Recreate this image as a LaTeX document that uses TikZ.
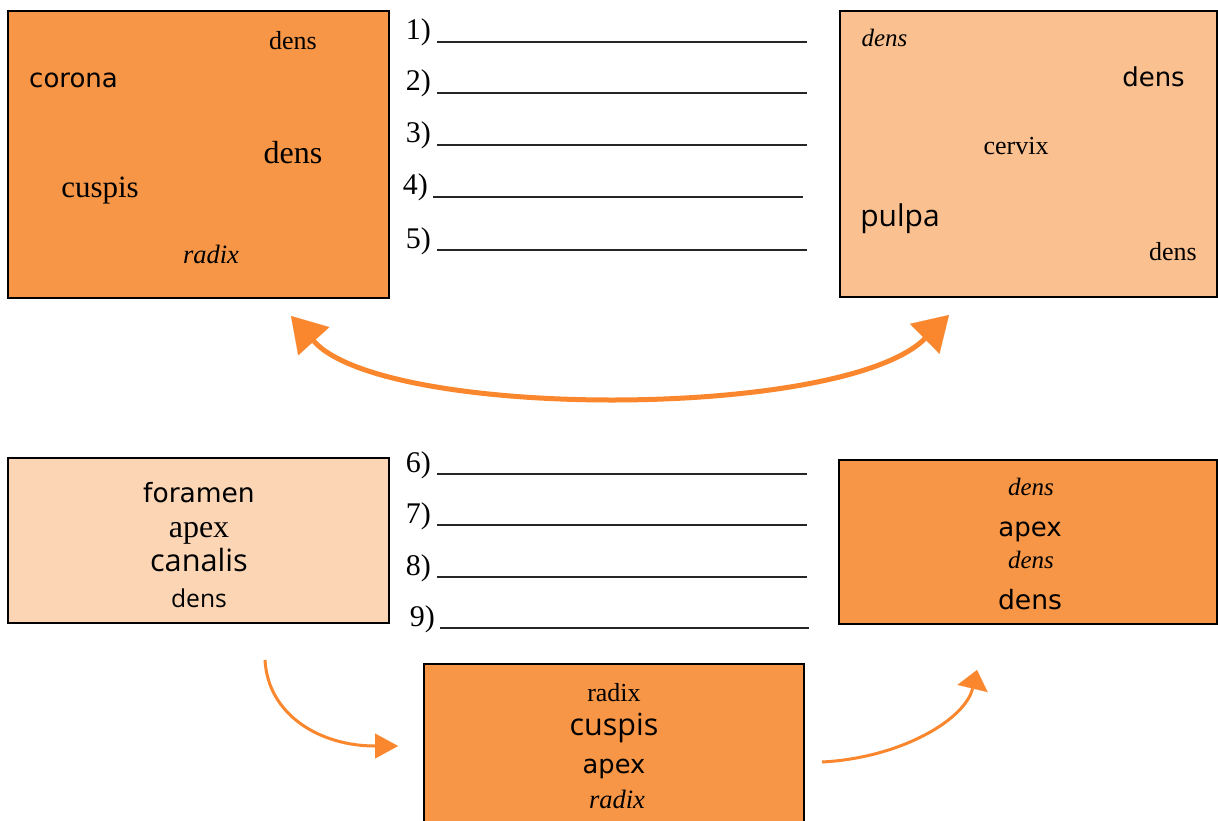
\documentclass[tikz,border=0pt]{standalone}
\usepackage{fontspec}
\setmainfont{Liberation Serif}
\newfontfamily\cmc{DejaVu Sans}
\newfontfamily\seg{Open Sans}
\usetikzlibrary{arrows.meta}
\newcommand\fsz[1]{\fontsize{#1}{#1}\selectfont}
\definecolor{darkor}{RGB}{247,150,70}
\definecolor{midor}{RGB}{250,192,144}
\definecolor{lightor}{RGB}{252,213,181}
\definecolor{arrcol}{RGB}{250,135,45}
\tikzset{
  box/.style={draw=black, line width=2pt, rectangle, inner sep=0pt},
  lbl/.style={anchor=base, inner sep=0pt},
  num/.style={anchor=base east, inner sep=0pt, font=\fsz{30}},
  blank/.style={draw=black!85, line width=1.6pt},
  arr/.style={draw=arrcol, line width=5pt},
  arrthin/.style={draw=arrcol, line width=3pt},
}
\begin{document}
\begin{tikzpicture}[x=1pt,y=-1pt]
\clip (0,0) rectangle (1218,821);
\fill[white] (0,0) rectangle (1218,821);

% boxes
\node[box, fill=darkor, minimum width=381pt, minimum height=287pt] (A) at (198.5,154.5) {};
\node[box, fill=midor, minimum width=377pt, minimum height=286pt] (B) at (1028.5,154) {};
\node[box, fill=lightor, minimum width=381pt, minimum height=165pt] (C) at (198.5,540.5) {};
\node[box, fill=darkor, minimum width=378pt, minimum height=164pt] (D) at (1028,542) {};
\node[box, fill=darkor, line width=2.5pt, minimum width=380pt, minimum height=176pt] (E) at (614,752) {};

% box A texts
\node[lbl] (a1) at (293,50) {\fsz{26}dens};
\node[lbl, anchor=base west] (a2) at (29,88) {\cmc\fsz{26}corona};
\node[lbl] (a3) at (293,164) {\fsz{32}dens};
\node[lbl] (a4) at (100,198) {\fsz{31}cuspis};
\node[lbl] (a5) at (211,263) {\fsz{26.5}\itshape radix};

% box B texts
\node[lbl] (b1) at (884.5,46.5) {\fsz{25}\itshape dens};
\node[lbl] (b2) at (1153.5,87) {\cmc\fsz{26}dens};
\node[lbl] (b3) at (1016,155) {\fsz{26}cervix};
\node[lbl] (b4) at (900,227) {\seg\fsz{30}pulpa};
\node[lbl] (b5) at (1173,260) {\fsz{26}dens};

% box C texts
\node[lbl] (c1) at (199,502) {\cmc\fsz{26.5}foramen};
\node[lbl] (c2) at (199,537) {\fsz{32}apex};
\node[lbl] (c3) at (199,571) {\seg\fsz{30.7}canalis};
\node[lbl] (c4) at (199,607) {\seg\fsz{24.6}dens};

% box D texts
\node[lbl] (d1) at (1031,495) {\fsz{25}\itshape dens};
\node[lbl] (d2) at (1030,536) {\cmc\fsz{26}apex};
\node[lbl] (d3) at (1031,568) {\fsz{25}\itshape dens};
\node[lbl] (d4) at (1030,609) {\cmc\fsz{26.6}dens};

% box E texts
\node[lbl] (e1) at (614,701) {\fsz{26}radix};
\node[lbl] (e2) at (614,735) {\seg\fsz{30.5}cuspis};
\node[lbl] (e3) at (614,773) {\cmc\fsz{25.7}apex};
\node[lbl] (e4) at (617,808) {\fsz{26.5}\itshape radix};

% numbered blanks
\node[num] (n1) at (431,40) {1)};
\node[num] (n2) at (431,91) {2)};
\node[num] (n3) at (431,143) {3)};
\node[num] (n4) at (428,195) {4)};
\node[num] (n5) at (431,248) {5)};
\node[num] (n6) at (431,472) {6)};
\node[num] (n7) at (431,523) {7)};
\node[num] (n8) at (431,575) {8)};
\node[num] (n9) at (435,626) {9)};
\draw[blank] (437,42) -- (807,42);
\draw[blank] (437,93) -- (807,93);
\draw[blank] (437,145) -- (807,145);
\draw[blank] (433,197) -- (803,197);
\draw[blank] (437,250) -- (807,250);
\draw[blank] (437,474) -- (807,474);
\draw[blank] (437,525) -- (807,525);
\draw[blank] (437,577) -- (807,577);
\draw[blank] (440,628) -- (809,628);

% arrows
\coordinate (tl) at (291,316);
\coordinate (tr) at (949,315);
\draw[arr, {Triangle[length=34pt,width=42pt,line width=0.1pt]}-{Triangle[length=34pt,width=42pt,line width=0.1pt]}]
  (tl) .. controls (385,420) and (842,420) .. (tr);

\coordinate (bls) at (265,660);
\coordinate (ble) at (398,746);
\draw[arrthin, -{Triangle[length=23pt,width=25pt,line width=0.1pt]}]
  (bls) .. controls (268,715) and (320,746) .. (ble);

\coordinate (brs) at (822,762);
\coordinate (bre) at (977,670);
\draw[arrthin, -{Triangle[length=19pt,width=31pt,line width=0.1pt]}]
  (brs) .. controls (900,758) and (965,720) .. (bre);
\end{tikzpicture}
\end{document}
